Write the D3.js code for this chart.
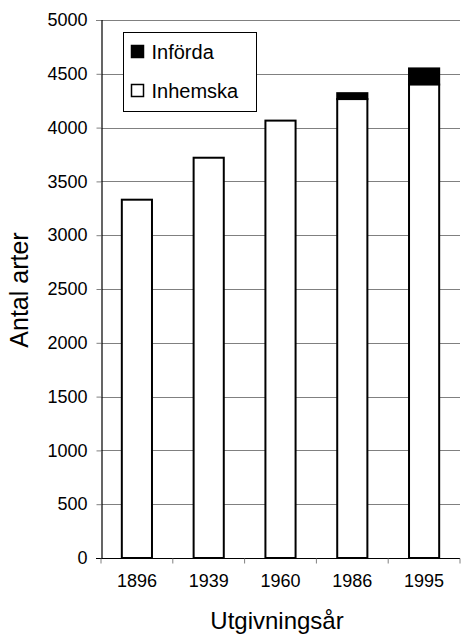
<!DOCTYPE html>
<html>
<head>
<meta charset="utf-8">
<script src="https://cdn.jsdelivr.net/npm/d3@7"></script>
<style>
  body { margin: 0; background: #fff; }
  text { font-family: "Liberation Sans", Arial, sans-serif; fill: #000; }
</style>
</head>
<body>
<div id="chart"></div>
<script>
const years = ["1896", "1939", "1960", "1986", "1995"];
const inhemska = [3330, 3720, 4065, 4265, 4400];
const inforda = [0, 0, 0, 55, 150];
const yTicks = [0, 500, 1000, 1500, 2000, 2500, 3000, 3500, 4000, 4500, 5000];

const width = 462, height = 635;
const margin = {top: 20, right: 2, bottom: 77, left: 101};

const svg = d3.select("#chart").append("svg")
  .attr("width", width)
  .attr("height", height);

const x = d3.scaleBand()
  .domain(years)
  .range([margin.left, width - margin.right])
  .paddingInner(0.58)
  .paddingOuter(0.29);

const y = d3.scaleLinear()
  .domain([0, 5000])
  .range([height - margin.bottom, margin.top]);

// gridlines
svg.append("g")
  .selectAll("line")
  .data(yTicks.filter(d => d > 0))
  .enter().append("line")
    .attr("x1", margin.left)
    .attr("x2", width - margin.right)
    .attr("y1", d => Math.round(y(d)) + 0.5)
    .attr("y2", d => Math.round(y(d)) + 0.5)
    .style("stroke", "#808080")
    .style("stroke-width", 1);

// bars
const stack = years.map((yr, i) => ({year: yr, inh: inhemska[i], inf: inforda[i]}));

const bars = svg.append("g");
bars.selectAll("rect.inf")
  .data(stack.filter(d => d.inf > 0))
  .enter().append("rect")
    .attr("class", "inf")
    .attr("x", d => x(d.year))
    .attr("width", x.bandwidth())
    .attr("y", d => y(d.inh + d.inf))
    .attr("height", d => y(d.inh) - y(d.inh + d.inf))
    .attr("fill", "#000")
    .style("stroke", "#000")
    .style("stroke-width", 2);

bars.selectAll("rect.inh")
  .data(stack)
  .enter().append("rect")
    .attr("class", "inh")
    .attr("x", d => x(d.year))
    .attr("width", x.bandwidth())
    .attr("y", d => y(d.inh))
    .attr("height", d => y(0) - y(d.inh))
    .attr("fill", "#fff")
    .style("stroke", "#000")
    .style("stroke-width", 2);

// y axis
const yAxis = svg.append("g")
  .attr("transform", `translate(${margin.left + 0.5},0)`)
  .call(d3.axisLeft(y).tickValues(yTicks).tickSize(5).tickPadding(9).tickFormat(d3.format("d")));
yAxis.select(".domain").style("stroke", "#000").style("stroke-width", 1.2);
yAxis.selectAll(".tick line").style("stroke", "#808080");
yAxis.selectAll(".tick text")
  .style("font-size", "18px")
  .attr("font-family", null);

// x axis
const xAxis = svg.append("g")
  .attr("transform", `translate(0,${y(0) + 0.5})`)
  .call(d3.axisBottom(x).tickSize(0).tickPadding(16));
xAxis.select(".domain").remove();
xAxis.append("line")
  .attr("x1", margin.left - 5)
  .attr("x2", width - margin.right)
  .style("stroke", "#000")
  .style("stroke-width", 1.2);
xAxis.selectAll(".tick text")
  .style("font-size", "18px")
  .attr("font-family", null);

// category boundary ticks
const step = x.step();
const bounds = d3.range(years.length + 1).map(i => margin.left + i * step);
xAxis.selectAll("line.bound")
  .data(bounds)
  .enter().append("line")
    .attr("class", "bound")
    .attr("x1", d => d)
    .attr("x2", d => d)
    .attr("y1", 0)
    .attr("y2", 5)
    .style("stroke", "#808080");

// axis titles
svg.append("text")
  .attr("x", 277)
  .attr("y", 629)
  .attr("text-anchor", "middle")
  .style("font-size", "24px")
  .text("Utgivningsår");

svg.append("text")
  .attr("transform", "translate(28,290) rotate(-90)")
  .attr("text-anchor", "middle")
  .style("font-size", "25px")
  .text("Antal arter");

// legend
const legend = svg.append("g").attr("transform", "translate(123.5,32.5)");
legend.append("rect")
  .attr("width", 133)
  .attr("height", 79)
  .attr("fill", "#fff")
  .style("stroke", "#000")
  .style("stroke-width", 1);

const legendItems = [
  {label: "Införda", fill: "#000"},
  {label: "Inhemska", fill: "#fff"}
];
const li = legend.selectAll("g.item")
  .data(legendItems)
  .enter().append("g")
    .attr("class", "item")
    .attr("transform", (d, i) => `translate(8,${13 + i * 39})`);
li.append("rect")
  .attr("width", 12)
  .attr("height", 12)
  .attr("fill", d => d.fill)
  .style("stroke", "#000")
  .style("stroke-width", 1.5);
li.append("text")
  .attr("x", 20)
  .attr("y", 13)
  .style("font-size", "20px")
  .text(d => d.label);
</script>
</body>
</html>
